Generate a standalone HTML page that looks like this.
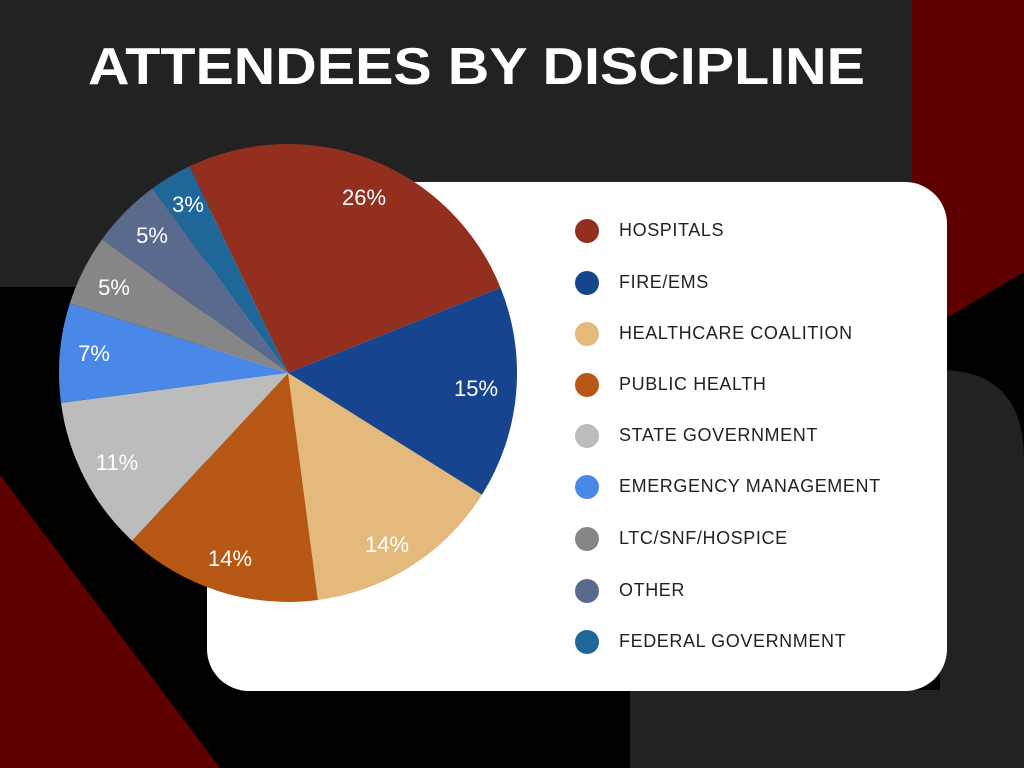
<!DOCTYPE html>
<html><head><meta charset="utf-8"><style>html,body{margin:0;padding:0;background:#000}svg{display:block}</style></head>
<body>
<svg width="1024" height="768" viewBox="0 0 1024 768" xmlns="http://www.w3.org/2000/svg" font-family="Liberation Sans, sans-serif">
<rect width="1024" height="768" fill="#000"/>
<rect x="0" y="0" width="912" height="287" fill="#222"/>
<polygon points="912,0 1024,0 1024,272 950,316 912,316" fill="#5e0000"/>
<path d="M940,370 Q1024,370 1024,460 L1024,768 L630,768 L630,690 L940,690 Z" fill="#222"/>
<polygon points="0,475 220,768 0,768" fill="#5e0000"/>
<rect x="207" y="182" width="740" height="509" rx="42" fill="#fff"/>
<text x="88" y="84" fill="#fff" font-size="52" font-weight="bold" textLength="777" lengthAdjust="spacingAndGlyphs">ATTENDEES BY DISCIPLINE</text>
<g>
<path d="M288,373 L189.4,166.3 A229,229 0 0 1 500.5,287.6 Z" fill="#922f1f"/>
<path d="M288,373 L500.5,287.6 A229,229 0 0 1 482.0,494.7 Z" fill="#17448f"/>
<path d="M288,373 L482.0,494.7 A229,229 0 0 1 317.9,600.0 Z" fill="#e3b97c"/>
<path d="M288,373 L317.9,600.0 A229,229 0 0 1 132.1,540.7 Z" fill="#b65716"/>
<path d="M288,373 L132.1,540.7 A229,229 0 0 1 61.0,402.9 Z" fill="#bcbcbc"/>
<path d="M288,373 L61.0,402.9 A229,229 0 0 1 69.8,303.4 Z" fill="#4a88e8"/>
<path d="M288,373 L69.8,303.4 A229,229 0 0 1 102.0,239.4 Z" fill="#868686"/>
<path d="M288,373 L102.0,239.4 A229,229 0 0 1 152.4,188.4 Z" fill="#5a6a8e"/>
<path d="M288,373 L152.4,188.4 A229,229 0 0 1 189.4,166.3 Z" fill="#1f6699"/>
</g>
<g fill="#fff" font-size="22" text-anchor="middle">
<text x="364" y="205">26%</text>
<text x="476" y="396">15%</text>
<text x="387" y="552">14%</text>
<text x="230" y="566">14%</text>
<text x="117" y="470">11%</text>
<text x="94" y="361">7%</text>
<text x="114" y="295">5%</text>
<text x="152" y="243">5%</text>
<text x="188" y="212">3%</text>
</g>
<g font-size="18" fill="#222" letter-spacing="0.6">
<circle cx="587" cy="231" r="12" fill="#922f1f"/><text x="619" y="236">HOSPITALS</text>
<circle cx="587" cy="283" r="12" fill="#17448f"/><text x="619" y="288">FIRE/EMS</text>
<circle cx="587" cy="334" r="12" fill="#e3b97c"/><text x="619" y="339">HEALTHCARE COALITION</text>
<circle cx="587" cy="385" r="12" fill="#b65716"/><text x="619" y="390">PUBLIC HEALTH</text>
<circle cx="587" cy="436" r="12" fill="#bcbcbc"/><text x="619" y="441">STATE GOVERNMENT</text>
<circle cx="587" cy="487" r="12" fill="#4a88e8"/><text x="619" y="492">EMERGENCY MANAGEMENT</text>
<circle cx="587" cy="539" r="12" fill="#868686"/><text x="619" y="544">LTC/SNF/HOSPICE</text>
<circle cx="587" cy="591" r="12" fill="#5a6a8e"/><text x="619" y="596">OTHER</text>
<circle cx="587" cy="642" r="12" fill="#1f6699"/><text x="619" y="647">FEDERAL GOVERNMENT</text>
</g>
</svg>
</body></html>
